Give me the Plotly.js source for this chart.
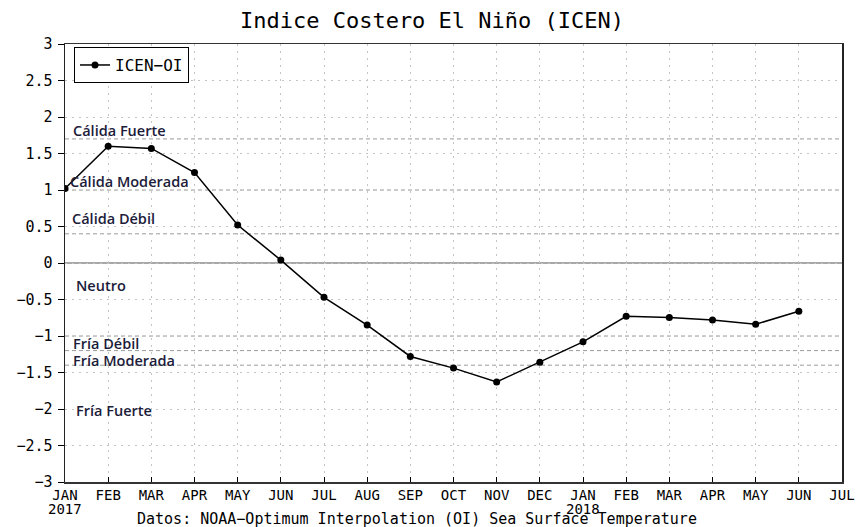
<!DOCTYPE html>
<html>
<head>
<meta charset="utf-8">
<script src="https://cdn.plot.ly/plotly-3.0.1.min.js"></script>
<style>html,body{margin:0;padding:0;background:#fff;}#chart{width:857px;height:527px;}</style>
</head>
<body>
<div id="chart"></div>
<script>
// Data
const monthIndex = [0,1,2,3,4,5,6,7,8,9,10,11,12,13,14,15,16,17];
const icenValues = [1.02,1.60,1.57,1.24,0.52,0.04,-0.47,-0.85,-1.28,-1.44,-1.63,-1.36,-1.08,-0.73,-0.745,-0.78,-0.84,-0.66];
const tickPositions = [0,1,2,3,4,5,6,7,8,9,10,11,12,13,14,15,16,17,18];
const tickLabels = ['JAN','FEB','MAR','APR','MAY','JUN','JUL','AUG','SEP','OCT','NOV','DEC','JAN','FEB','MAR','APR','MAY','JUN','JUL'];
const yearPositions = [0, 12];
const yearLabels = ['2017', '2018'];
const thresholds = [1.7, 1.0, 0.4, -1.0, -1.2, -1.4];
const zoneLabels = ['Cálida Fuerte','Cálida Moderada','Cálida Débil','Neutro','Fría Débil','Fría Moderada','Fría Fuerte'];
const zoneLabelY = [1.82, 1.115, 0.61, -0.31, -1.10, -1.33, -2.02];
const zoneLabelX = [0.008, 0.004, 0.007, 0.011, 0.008, 0.008, 0.011];

const grads = 'DejaVu Sans Mono, monospace';

const trace = {
  x: monthIndex, y: icenValues, type: 'scatter', mode: 'lines+markers',
  name: 'ICEN\u2212OI',
  line: {color: '#000', width: 1.5},
  marker: {color: '#000', size: 7, symbol: 'circle'}
};

const shapes = thresholds.map(v => ({
  type: 'line', xref: 'paper', x0: 0, x1: 1, yref: 'y', y0: v, y1: v,
  line: {color: '#9a9a9a', width: 1, dash: '4px,3px'}, layer: 'below'
}));
shapes.push({type: 'line', xref: 'paper', x0: 0, x1: 1, yref: 'y', y0: 0, y1: 0,
  line: {color: '#a8a8a8', width: 2}, layer: 'below'});

const annotations = zoneLabels.map((t, i) => ({
  text: t, xref: 'paper', x: zoneLabelX[i], xanchor: 'left', yref: 'y', y: zoneLabelY[i], yanchor: 'middle',
  showarrow: false, font: {family: 'Open Sans, sans-serif', size: 14.5, weight: 600, color: '#1c1c3a'}
}));
yearLabels.forEach((t, i) => annotations.push({
  text: t, xref: 'x', x: yearPositions[i], yref: 'paper', y: 0, yshift: -27, xanchor: 'center', yanchor: 'middle',
  showarrow: false, font: {family: grads, size: 14, color: '#000'}
}));
annotations.push({
  text: 'Datos: NOAA\u2212Optimum Interpolation (OI) Sea Surface Temperature',
  xref: 'paper', yref: 'paper', x: (417-65)/777, y: 0, yshift: -36.5, xanchor: 'center', yanchor: 'middle',
  showarrow: false, font: {family: grads, size: 15, color: '#000'}
});

const layout = {
  width: 857, height: 527,
  margin: {l: 65, r: 15, t: 44, b: 45},
  paper_bgcolor: '#fff', plot_bgcolor: '#fff',
  title: {text: 'Indice Costero El Niño (ICEN)', x: 432/857, xanchor: 'center', y: 1 - 20/527, yanchor: 'middle',
    font: {family: grads, size: 22, color: '#000'}},
  showlegend: true,
  legend: {x: 0.0116, y: 0.993, xanchor: 'left', yanchor: 'top', bgcolor: '#fff', bordercolor: '#000', borderwidth: 1,
    font: {family: grads, size: 16, color: '#000'}, tracegroupgap: 0},
  xaxis: {
    range: [0, 18], tickmode: 'array', tickvals: tickPositions, ticktext: tickLabels,
    ticks: 'inside', ticklen: 5, tickcolor: '#000',
    showgrid: true, gridcolor: '#c4c4c4', griddash: '2px,5px', gridwidth: 1,
    showline: true, linecolor: '#333', linewidth: 1.5, mirror: true, zeroline: false,
    tickfont: {family: grads, size: 14, color: '#000'}, fixedrange: true
  },
  yaxis: {
    range: [-3, 3], dtick: 0.5, tick0: 0, ticks: 'outside', ticklen: 6, tickcolor: '#000',
    showgrid: true, gridcolor: '#c4c4c4', griddash: '2px,5px', gridwidth: 1,
    showline: true, linecolor: '#222', linewidth: 1.5, mirror: true, zeroline: false,
    tickfont: {family: grads, size: 15, color: '#000'}, fixedrange: true,
    ticklabelstandoff: 2
  },
  shapes: shapes,
  annotations: annotations
};

Plotly.newPlot('chart', [trace], layout, {displayModeBar: false, staticPlot: true});
</script>
</body>
</html>
